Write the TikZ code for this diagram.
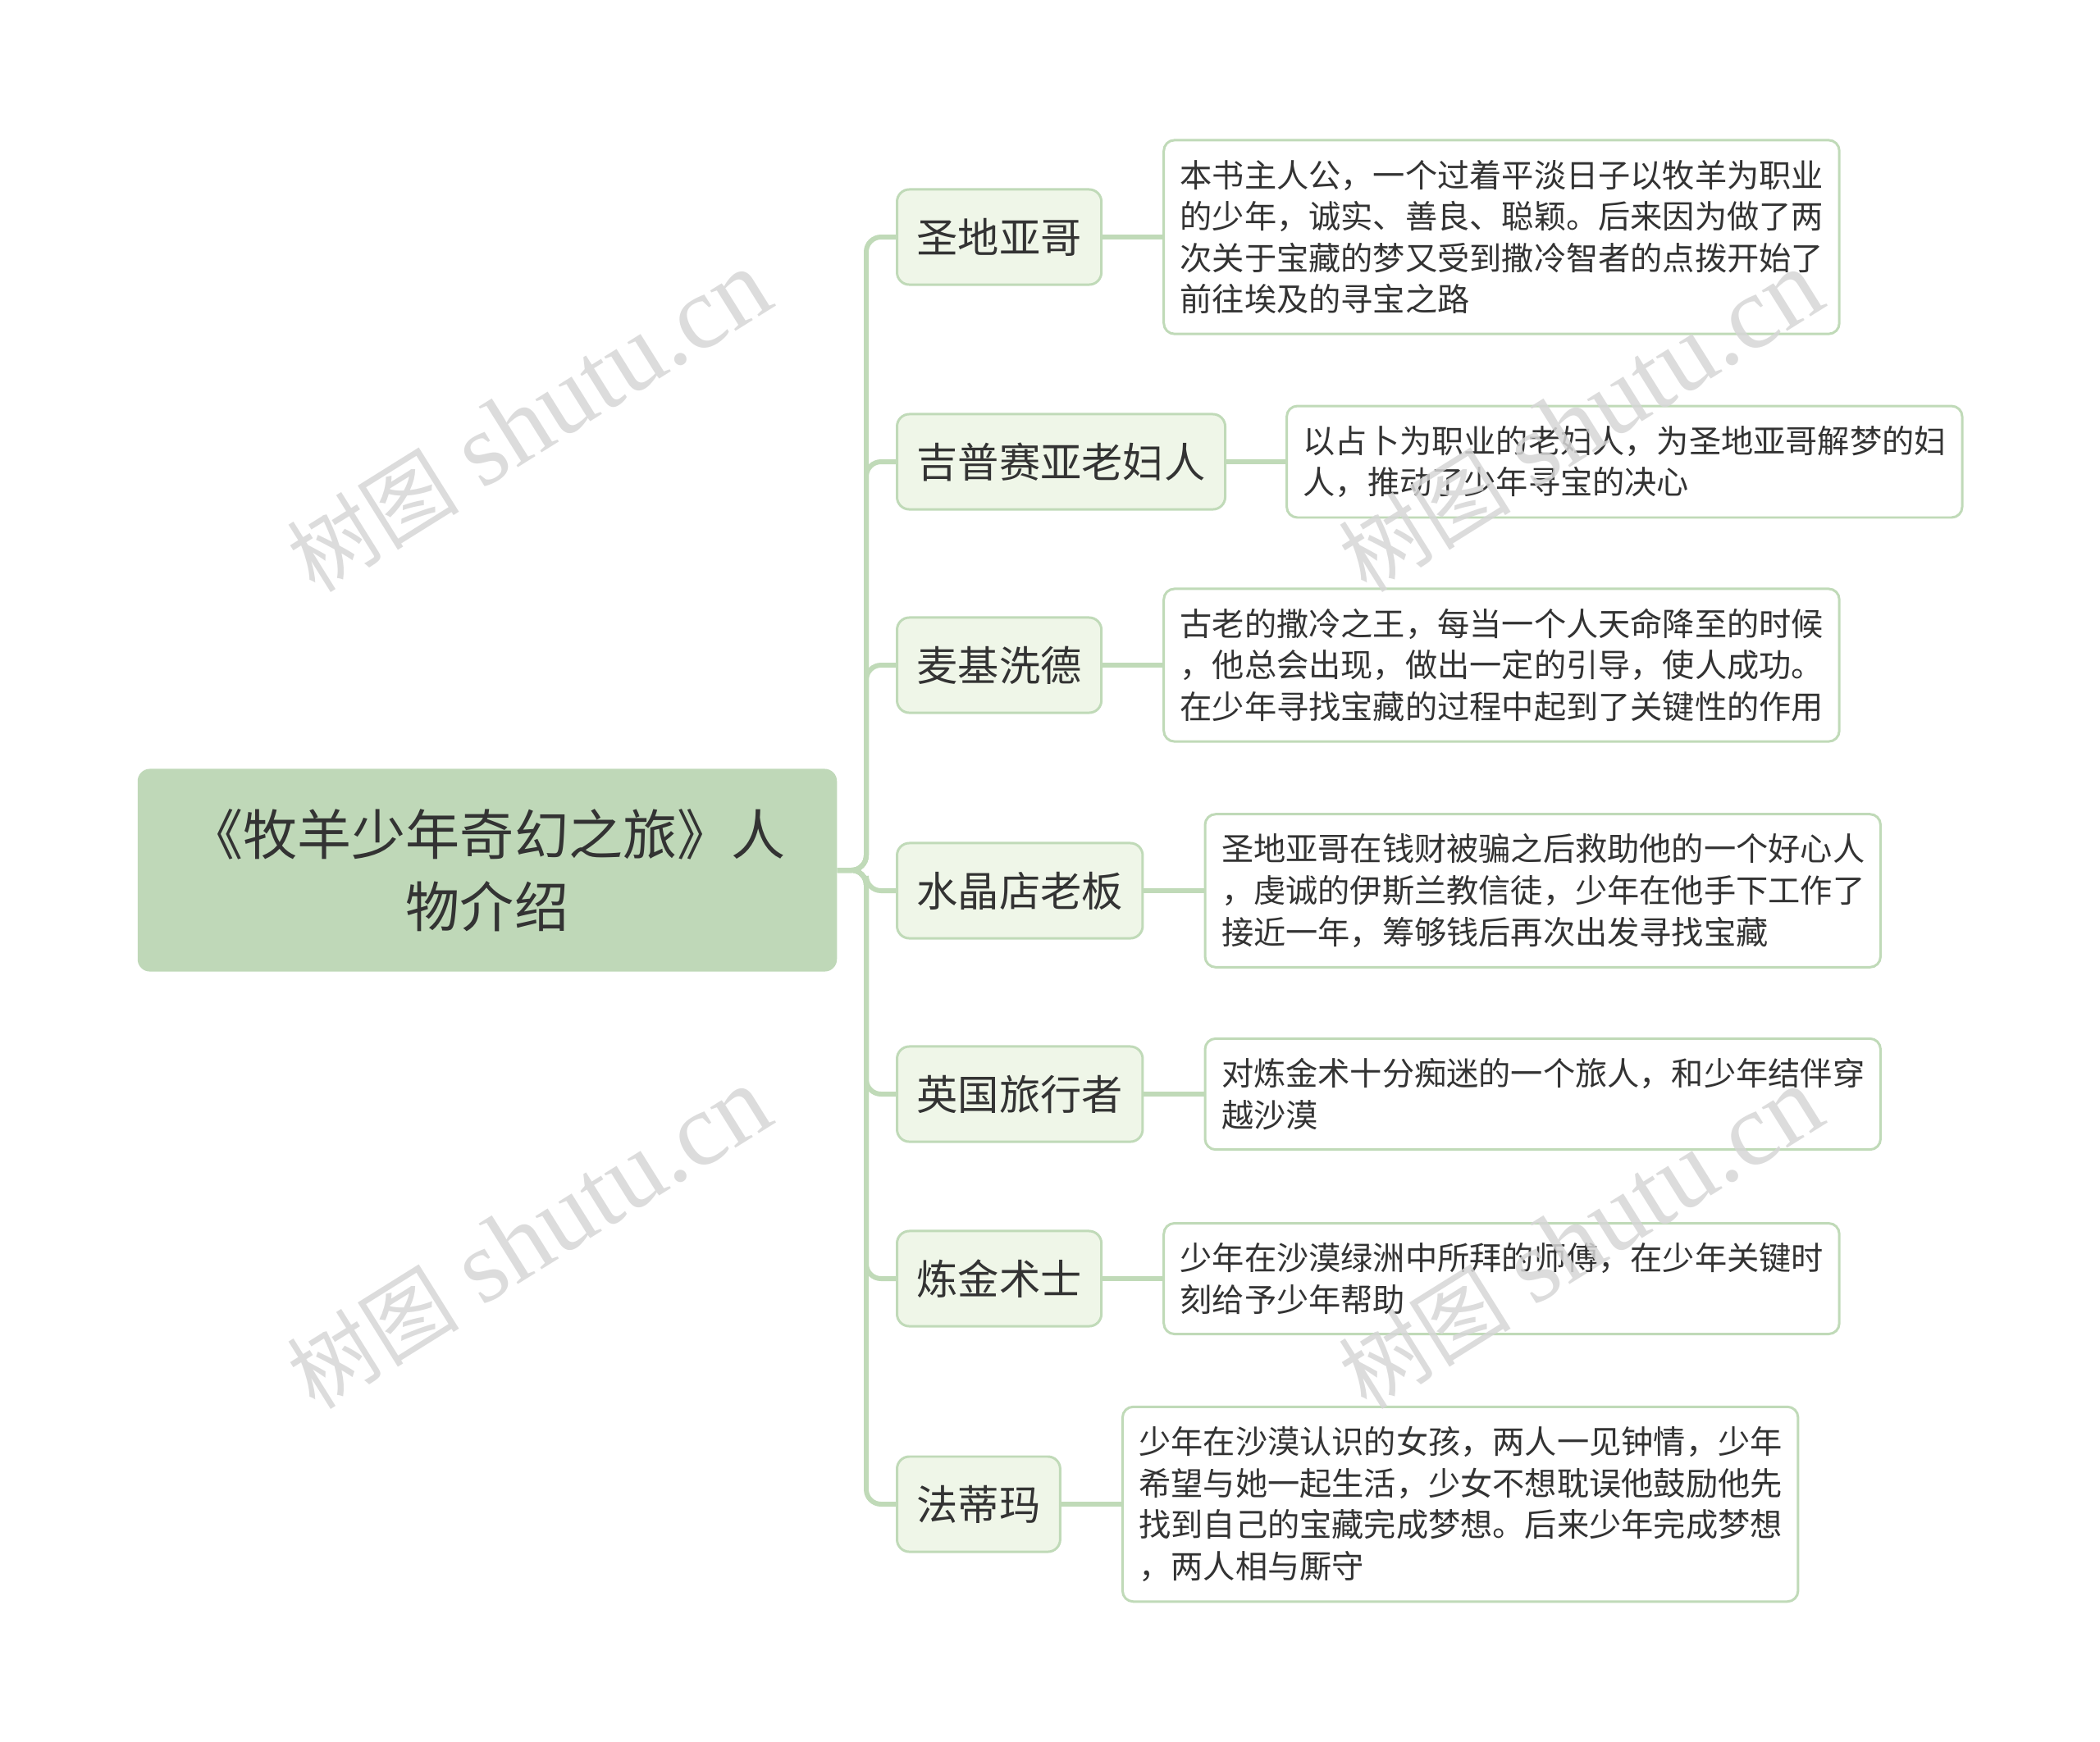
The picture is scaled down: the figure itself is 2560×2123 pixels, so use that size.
\documentclass[tikz,border=0pt]{standalone}
\usepackage{fontspec}
\setmainfont{Noto Sans CJK SC}
\newfontfamily\wmfont{Liberation Serif}
\usepackage{xcolor}
\usepackage{tikz}
\usetikzlibrary{positioning}
\definecolor{rootfill}{HTML}{BFD8B8}
\definecolor{rolefill}{HTML}{EFF6E8}
\definecolor{linegreen}{HTML}{C0DAB8}
\definecolor{txtgray}{HTML}{333333}
\definecolor{wmgray}{HTML}{D6D6D6}
\tikzstyle{topic} = [rounded corners=0.15cm, fill=rootfill, text=txtgray, align=center, minimum width=8.52cm, minimum height=2.47cm, font=\fontsize{18.8pt}{25pt}\selectfont]
\tikzstyle{role} = [draw=linegreen, line width=0.85pt, rounded corners=0.15cm, fill=rolefill, text=txtgray, minimum height=1.16cm, inner xsep=0.24cm, font=\fontsize{14.3pt}{17pt}\selectfont]
\tikzstyle{info} = [draw=linegreen, line width=0.85pt, rounded corners=0.13cm, fill=white, text=txtgray, align=left, text width=7.83cm, inner xsep=0.2cm, inner ysep=0.24cm, font=\fontsize{11.15pt}{14.4pt}\selectfont]
\tikzstyle{branch} = [draw=linegreen, line width=1.7pt, rounded corners=0.18cm]
\tikzstyle{watermark} = [rotate=32, text=wmgray, opacity=0.85, font=\fontsize{36pt}{36pt}\selectfont]

\begin{document}
\begin{tikzpicture}[x=0.01cm,y=-0.01cm]
	\useasboundingbox (0,0) rectangle (2560,2123);
	
	% Central topic:
	\node [topic] (book) at (594,1061) {《牧羊少年奇幻之旅》人\\物介绍};
	\coordinate (fork) at (1056,1061);
	
	% Characters:
	% Placed at their left edges, one below the other
	\node [role, anchor=west] (santiago) at (1092,289) {圣地亚哥};
	\node [role, anchor=west] (gypsy) at (1092,563) {吉普赛亚老妇人};
	\node [role, anchor=west] (melchizedek) at (1092,811) {麦基洗德};
	\node [role, anchor=west] (merchant) at (1092,1086) {水晶店老板};
	\node [role, anchor=west] (englishman) at (1092,1334) {英国旅行者};
	\node [role, anchor=west] (alchemist) at (1092,1559) {炼金术士};
	\node [role, anchor=west] (fatima) at (1092,1834) {法蒂玛};
	
	% Descriptions:
	% Each one to the right of its character
	\node [info, right=0.73cm of santiago] (santiagoinfo) {本书主人公，一个过着平淡日子以牧羊为职业\\的少年，诚实、善良、聪颖。后来因为做了两\\次关于宝藏的梦又受到撒冷智者的点拨开始了\\前往埃及的寻宝之路};
	\node [info, right=0.72cm of gypsy] (gypsyinfo) {以占卜为职业的老妇人，为圣地亚哥解梦的妇\\人，推动了少年寻宝的决心};
	\node [info, right=0.73cm of melchizedek] (melchizedekinfo) {古老的撒冷之王，每当一个人天命降至的时候\\，他总会出现，做出一定的引导，使人成功。\\在少年寻找宝藏的过程中起到了关键性的作用};
	\node [info, right=0.73cm of merchant] (merchantinfo) {圣地亚哥在钱财被骗之后救助他的一个好心人\\，虔诚的伊斯兰教信徒，少年在他手下工作了\\接近一年，筹够钱后再次出发寻找宝藏};
	\node [info, right=0.73cm of englishman] (englishmaninfo) {对炼金术十分痴迷的一个旅人，和少年结伴穿\\越沙漠};
	\node [info, right=0.73cm of alchemist] (alchemistinfo) {少年在沙漠绿洲中所拜的师傅，在少年关键时\\刻给予少年帮助};
	\node [info, right=0.73cm of fatima] (fatimainfo) {少年在沙漠认识的女孩，两人一见钟情，少年\\希望与她一起生活，少女不想耽误他鼓励他先\\找到自己的宝藏完成梦想。后来少年完成梦想\\，两人相与厮守};
	
	% Connectors:
	\foreach \r in {santiago,gypsy,melchizedek,merchant,englishman,alchemist,fatima}
	{
		\draw [branch] (book.east) -- (fork) |- (\r.west);
		\draw [branch] (\r.east) -- (\r info.west);
	}
	
	% Watermarks:
	\foreach \wx/\wy in {645/514,1927/514,645/1510,1927/1510}
	{
		\node [watermark] (wm\wx\wy) at (\wx,\wy) {{\fontsize{30pt}{30pt}\selectfont 树图} {\wmfont shutu.cn}};
	}
	
\end{tikzpicture}
\end{document}
